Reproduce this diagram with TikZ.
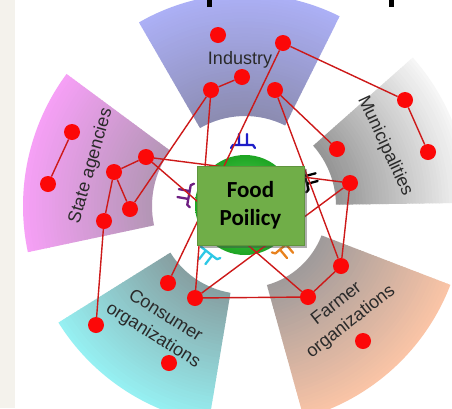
\documentclass[tikz,border=0pt]{standalone}
\usepackage{fontspec}
\setmainfont{Liberation Sans}
\newfontfamily\boxfont{Carlito}
\usetikzlibrary{shadows,calc}
\pgfdeclarelayer{top}
\pgfsetlayers{main,top}
\definecolor{indIn}{RGB}{140,140,178}
\definecolor{indOut}{RGB}{172,176,246}
\definecolor{munIn}{RGB}{150,150,150}
\definecolor{munOut}{RGB}{246,246,246}
\definecolor{staIn}{RGB}{180,150,182}
\definecolor{staOut}{RGB}{246,160,246}
\definecolor{conIn}{RGB}{135,160,162}
\definecolor{conOut}{RGB}{150,240,242}
\definecolor{farIn}{RGB}{160,155,155}
\definecolor{farOut}{RGB}{250,196,166}
\definecolor{stripcol}{RGB}{244,242,236}
\definecolor{lblgray}{RGB}{42,42,42}
\definecolor{linered}{RGB}{205,25,25}
\definecolor{dotred}{RGB}{252,8,8}
\definecolor{boxgreen}{RGB}{112,174,72}
\definecolor{ballIn}{RGB}{100,220,100}
\definecolor{ballOut}{RGB}{30,165,35}
\definecolor{symblue}{RGB}{30,30,200}
\definecolor{sympurple}{RGB}{110,30,130}
\definecolor{symcyan}{RGB}{45,200,230}
\definecolor{symorange}{RGB}{232,130,30}
\newcommand\drawsector[6]{%
  \foreach \i in {0,...,39}{%
    \pgfmathsetmacro\ra{#3+(#4-#3)*\i/40}%
    \pgfmathsetmacro\rb{min(#4,#3+(#4-#3)*(\i+1)/40+0.7)}%
    \pgfmathtruncatemacro\pp{100*\i/39}%
    \fill[#6!\pp!#5] ($(C)+(#1:\ra pt)$) arc[start angle=#1,end angle=#2,radius=\ra pt]
      -- ($(C)+(#2:\rb pt)$) arc[start angle=#2,end angle=#1,radius=\rb pt] -- cycle;
  }}
\newcommand\recep[4]{%
  \begin{scope}[shift={(#1,#2)},rotate=#3-90]
    \draw[receptor,#4] (-4pt,0pt)--(-4pt,11pt) (4pt,0pt)--(4pt,11pt)
      (-12pt,-3pt)--(-10pt,0pt)--(10pt,0pt)--(12pt,-3pt);
  \end{scope}}
\tikzset{
  dot/.style={circle,fill=dotred,draw=none,inner sep=0pt,minimum size=16pt},
  link/.style={draw=linered,line width=1.4pt},
  lbl/.style={font=\fontsize{18}{23}\selectfont,text=lblgray,align=center,inner sep=0pt},
  receptor/.style={line width=2.3pt,line cap=round,line join=round},
  foodbox/.style={rectangle,fill=boxgreen,draw=boxgreen!85!black,line width=0.4pt,
    minimum width=107pt,minimum height=79pt,inner sep=0pt,align=center,
    font=\boxfont\bfseries\fontsize{23}{28}\selectfont,text=black,
    drop shadow={shadow xshift=2.5pt,shadow yshift=-2.5pt,opacity=0.45,fill=black!70}}
}
\begin{document}
\begin{tikzpicture}[x=1pt,y=-1pt]
\useasboundingbox (0,0) rectangle (452,408);
\clip (0,0) rectangle (452,408);
\fill[white] (0,0) rectangle (452,408);
\fill[stripcol] (0,0) rectangle (15,408);
\coordinate (C) at (245,206);
% sectors
\drawsector{63.5}{120}{90}{212}{indIn}{indOut}
\drawsector{0.8}{41.5}{91}{224}{munIn}{munOut}
\drawsector{143.5}{192}{93}{222}{staIn}{staOut}
\drawsector{212}{260.5}{88}{220}{conIn}{conOut}
\drawsector{285.5}{339}{82}{220}{farIn}{farOut}
% fragments at top
\fill[black] (207,0) rectangle (212,7);
\fill[black] (389,0) rectangle (394,7);
% labels
\node[lbl] (Lind) at (240,60) {Industry};
\node[lbl,rotate=-65] (Lmun) at (385,146) {Municipalities};
\node[lbl,rotate=74] (Lsta) at (91,166) {State agencies};
\node[lbl,rotate=-32] (Lcon) at (159,326) {Consumer\\organizations};
\node[lbl,rotate=38] (Lfar) at (344,313) {Farmer\\organizations};
% green ball
\shade[inner color=ballIn,outer color=ballOut] (245,205) circle (50pt);
% receptors
\recep{243}{145}{90}{symblue}
\recep{189}{195}{170}{sympurple}
\recep{209}{253}{232}{symcyan}
\recep{283}{247}{310}{symorange}
\recep{306}{180}{15}{black}
\begin{pgfonlayer}{top}
\node[foodbox] (FP) at (250.5,205.5) {Food\\Poilicy};
\node[dot] (I1) at (218,35) {};
\node[dot] (I2) at (283,43) {};
\node[dot] (I3) at (242,77) {};
\node[dot] (I4) at (211,90) {};
\node[dot] (I5) at (275,90) {};
\node[dot] (M1) at (405,100) {};
\node[dot] (M2) at (428,152) {};
\node[dot] (M3) at (337,149) {};
\node[dot] (M4) at (350,183) {};
\node[dot] (S1) at (72,132) {};
\node[dot] (S2) at (48,184) {};
\node[dot] (S3) at (146,157) {};
\node[dot] (S4) at (114,172) {};
\node[dot] (S5) at (130,209) {};
\node[dot] (S6) at (104,221) {};
\node[dot] (C1) at (96,325) {};
\node[dot] (C2) at (168,283) {};
\node[dot] (C3) at (195,298) {};
\node[dot] (C4) at (169,363) {};
\node[dot] (F1) at (341,266) {};
\node[dot] (F2) at (308,297) {};
\node[dot] (F3) at (363,341) {};
\end{pgfonlayer}
% links
\draw[link] (S1) -- (S2);
\draw[link] (I3) -- (I4);
\draw[link] (I2) -- (M1);
\draw[link] (M1) -- (M2);
\draw[link] (I2) -- (C2);
\draw[link] (I4) -- (S5);
\draw[link] (I4) -- (C3);
\draw[link] (S4) -- (S3);
\draw[link] (S4) -- (S5);
\draw[link] (S4) -- (S6);
\draw[link] (S6) -- (C1);
\draw[link] (S3) -- (M4);
\draw[link] (S3) -- (F2);
\draw[link] (I5) -- (M3);
\draw[link] (I5) -- (F1);
\draw[link] (M4) -- (F1);
\draw[link] (M4) -- (C3);
\draw[link] (C3) -- (F2);
\draw[link] (F1) -- (F2);
\end{tikzpicture}
\end{document}
